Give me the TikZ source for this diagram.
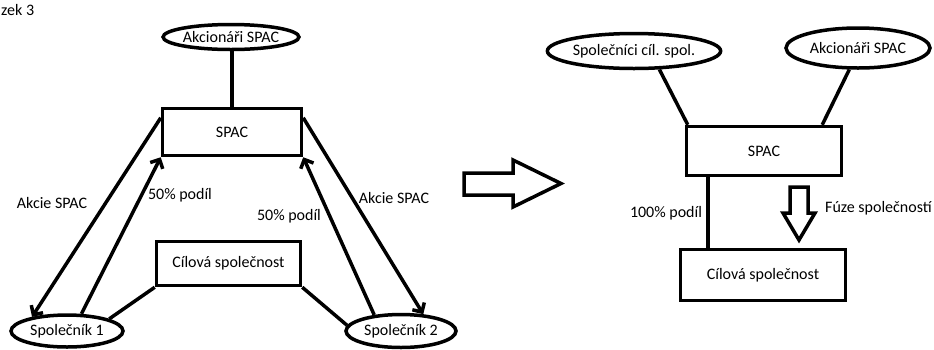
\documentclass[tikz,border=0pt]{standalone}
\usepackage{fontspec}
\setmainfont{Carlito}
\usetikzlibrary{shapes.geometric,arrows.meta,calc}
\begin{document}
\begin{tikzpicture}[x=1pt,y=-1pt,
  every node/.style={font=\fontsize{16}{19}\selectfont},
  box/.style={draw,line width=3.5pt,rectangle,inner sep=0pt},
  oval/.style={draw,line width=3.5pt,ellipse,inner sep=0pt},
  conn/.style={line width=3.5pt},
  arr/.style={line width=3.5pt,-{Straight Barb[length=7pt,width=14pt,line width=3.5pt]}},
  lbl/.style={inner sep=0pt},
  hollow/.style={draw,line width=3.5pt,line join=miter}]
\useasboundingbox (0,0) rectangle (934,349);
\node[lbl,anchor=west] (cap) at (1,10) {zek 3};
% left diagram
\node[oval,minimum width=115pt,minimum height=25pt] (ak1) at (231,37) {Akcionáři SPAC};
\node[box,minimum width=139pt,minimum height=47pt] (spac1) at (232,132) {SPAC};
\node[box,minimum width=144pt,minimum height=44pt] (cil1) at (228.5,263.5) {Cílová společnost};
\node[oval,minimum width=112pt,minimum height=32pt] (s1) at (67,331) {Společník 1};
\node[oval,minimum width=110pt,minimum height=33pt] (s2) at (401,331) {Společník 2};
\draw[conn] (spac1.north) -- (spac1.north |- ak1.south);
\draw[arr] ($(spac1.north west)+(0,11)$) -- (s1.158);
\draw[arr] (s1.50) -- (spac1.south west);
\draw[arr] ($(spac1.north east)+(0,11)$) -- (s2.37);
\draw[arr] (s2.149) -- (spac1.south east);
\draw[conn] (cil1.south west) -- (s1.16);
\draw[conn] (cil1.south east) -- (s2.174);
\node[lbl] (l1) at (52,203) {Akcie SPAC};
\node[lbl] (l2) at (180,195) {50\% podíl};
\node[lbl] (l3) at (394,198) {Akcie SPAC};
\node[lbl] (l4) at (289,216) {50\% podíl};
% big arrow
\draw[hollow] (464,173) -- (513,173) -- (513,160) -- (561,183.5) -- (513,207) -- (513,195) -- (464,195) -- cycle;
% right diagram
\node[oval,minimum width=132pt,minimum height=35pt] (sp) at (634,51) {Společníci cíl. spol.};
\node[oval,minimum width=144pt,minimum height=40pt] (ak2) at (858,48) {Akcionáři SPAC};
\node[box,minimum width=155pt,minimum height=49pt] (spac2) at (764,151) {SPAC};
\node[box,minimum width=165pt,minimum height=51pt] (cil2) at (763,275) {Cílová společnost};
\draw[conn] (sp.-36) -- ($(spac2.north west)+(3,0)$);
\draw[conn] (ak2.-112) -- ($(spac2.north east)+(-21,0)$);
\coordinate (v1) at ($(spac2.south west)+(23,0)$);
\draw[conn] (v1) -- (v1 |- cil2.north);
\draw[hollow] (790,187) -- (808,187) -- (808,213) -- (815,213) -- (799,240) -- (783,213) -- (790,213) -- cycle;
\node[lbl] (l5) at (666,213) {100\% podíl};
\node[lbl,anchor=west] (l6) at (825,208) {Fúze společností};
\end{tikzpicture}
\end{document}
